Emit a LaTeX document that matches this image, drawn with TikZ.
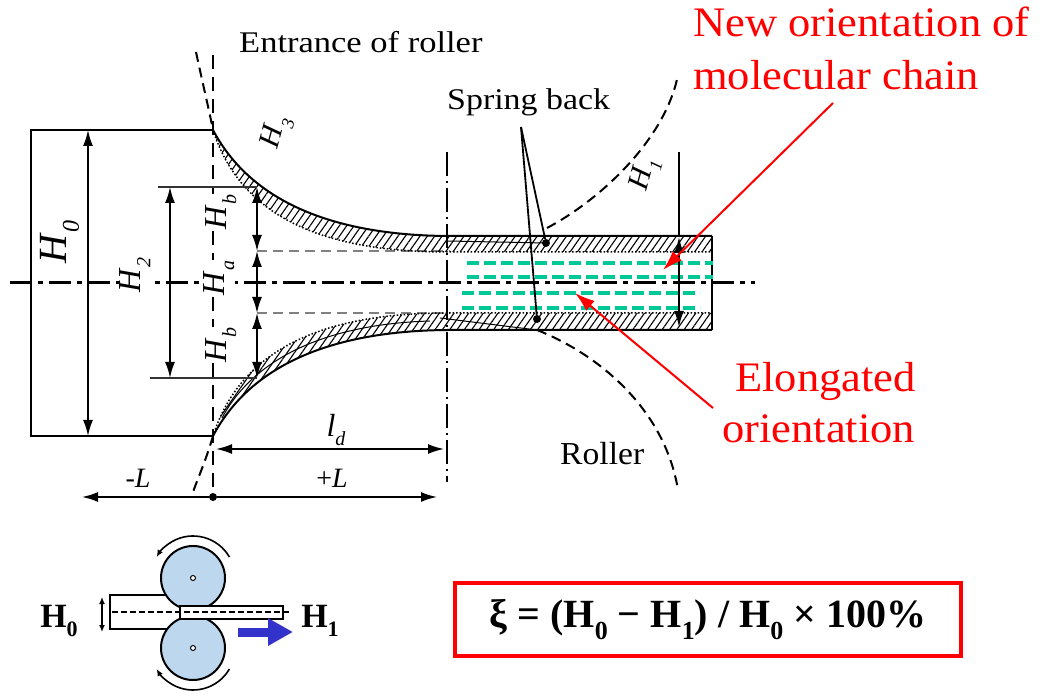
\documentclass[tikz,border=0pt]{standalone}
\usepackage{fontspec}
\usepackage{graphicx}
\setmainfont{Liberation Serif}
\usetikzlibrary{arrows.meta,patterns.meta}

\definecolor{chaincol}{RGB}{0,200,150}
\definecolor{rollcol}{RGB}{189,215,238}
\definecolor{flowcol}{RGB}{51,51,204}

% horizontally widened text
\newcommand{\wide}[2]{\scalebox{#1}[1]{#2}}
% italic symbol with lowered subscript: size, subscript size, symbol, index
\newcommand{\dimlab}[4]{{\fontsize{#1}{#1}\selectfont\textit{#3}\raisebox{-0.3em}{\fontsize{#2}{#2}\selectfont\textit{#4}}}}
% bold subscript for the formula and the small sketch
\newcommand{\bsub}[2]{\raisebox{-0.28em}{\fontsize{#1}{#1}\selectfont #2}}

\begin{document}
\begin{tikzpicture}[x=1pt,y=-1pt,
  >={Latex[length=16pt,width=10pt]},
  dimline/.style={line width=1.8pt,<->},
  extline/.style={line width=2.2pt,black!80},
  rollline/.style={line width=2pt,dash pattern=on 10pt off 6pt},
  innerline/.style={gray,line width=2pt,dash pattern=on 10pt off 6pt},
  chainline/.style={chaincol,line width=3.5pt,dash pattern=on 12pt off 5pt},
  hatch/.style={pattern={Lines[angle=55,distance=6pt,line width=1.1pt]}},
  lab/.style={fill=white,inner sep=1pt},
  dot/.style={circle,fill=black,inner sep=0pt,minimum size=8pt},
  txt/.style={anchor=base west,inner sep=0pt},
  redtxt/.style={anchor=base west,inner sep=0pt,red},
  redarrow/.style={red,line width=2pt,-{Latex[length=20pt,width=13pt]}},
  roll/.style={circle,draw,line width=2pt,fill=rollcol,minimum size=64pt,inner sep=0pt},
  hub/.style={circle,draw,line width=1pt,fill=white,minimum size=5pt,inner sep=0pt},
  rotarrow/.style={line width=1.6pt,-{Latex[length=7pt,width=6pt]}}
]
\useasboundingbox (0,0) rectangle (1042,700);

% ---------- roller outlines ----------
\draw[rollline] (196,52) .. controls (203,85) and (208,105) .. (213,130);
\draw[rollline] (213,436) .. controls (206,460) and (198,478) .. (193,492);
\draw[rollline] (547,228) .. controls (600,200) and (665,140) .. (678,75);
\draw[rollline] (537,330) .. controls (600,355) and (665,410) .. (678,490);

% ---------- reference lines ----------
\draw[line width=2pt,dash pattern=on 14pt off 8pt] (213,55) -- (213,497);
\draw[line width=2pt,dash pattern=on 24pt off 5pt on 2pt off 5pt] (447,152) -- (447,482);
\draw[line width=3pt,dash pattern=on 22pt off 6pt on 5pt off 6pt] (10,283) -- (755,283);
\draw[innerline] (257,251) -- (450,251);
\draw[innerline] (257,313) -- (450,313);

% ---------- sheet in the roll gap ----------
\fill[hatch] (213,130) .. controls (250,200) and (330,235) .. (447,236) -- (712,236)
  -- (712,252) -- (447,252) .. controls (320,252) and (240,215) .. (213,130) -- cycle;
\fill[hatch] (213,436) .. controls (250,366) and (330,331) .. (447,330) -- (712,330)
  -- (712,313) -- (447,313) .. controls (320,313) and (240,351) .. (213,436) -- cycle;
\draw[line width=2pt] (213,130) .. controls (250,200) and (330,235) .. (447,236) -- (712,236);
\draw[line width=1.5pt,dotted] (213,130) .. controls (240,215) and (320,252) .. (447,252) -- (712,252);
\draw[line width=2pt] (213,436) .. controls (250,366) and (330,331) .. (447,330) -- (712,330);
\draw[line width=1.5pt,dotted] (213,436) .. controls (240,351) and (320,313) .. (447,313) -- (712,313);
\draw[line width=1pt] (222,418) .. controls (255,356) and (330,324) .. (430,321);
\draw[line width=1pt] (447,241) -- (546,243);
\draw[line width=1pt] (440,318) -- (537,330);
\draw[line width=2.5pt] (712,236) -- (712,330);

% molecular chains
\draw[chainline] (467,263) -- (713,263);
\draw[chainline] (467,277) -- (713,277);
\draw[chainline] (462,293) -- (700,293);
\draw[chainline] (462,308) -- (700,308);

% ---------- incoming sheet ----------
\draw[line width=2pt] (213,130) -- (31,130) -- (31,436) -- (213,436);

% ---------- dimensions ----------
\draw[dimline] (88,130) -- (88,436);
\draw[extline] (158,187) -- (257,187);
\draw[extline] (150,378) -- (257,378);
\draw[dimline] (170,187) -- (170,378);
\draw[dimline] (257,187) -- (257,251);
\draw[dimline] (257,251) -- (257,313);
\draw[dimline] (257,313) -- (257,378);
\draw[line width=1.8pt] (679,152) -- (679,237);
\draw[dimline] (679,237) -- (679,327);
\draw[dimline] (216,449) -- (444,449);
\node[dot] (orig) at (213,497) {};
\draw[line width=1.8pt,->] (orig) -- (437,497);
\draw[line width=1.8pt,->] (orig) -- (82,497);

\node[lab,rotate=90] (h0) at (60,242) {\dimlab{40}{24}{H}{0}};
\node[lab,rotate=90] (h2) at (135,275) {\dimlab{32}{20}{H}{2}};
\node[lab,rotate=90] (hb1) at (221,212) {\dimlab{32}{20}{H}{b}};
\node[lab,rotate=90] (ha) at (219,278) {\dimlab{32}{20}{H}{a}};
\node[lab,rotate=90] (hb2) at (221,345) {\dimlab{32}{20}{H}{b}};
\node[rotate=75,inner sep=1pt] (h3) at (277,133) {\dimlab{30}{18}{H}{3}};
\node[rotate=75,inner sep=1pt] (h1) at (645,175) {\dimlab{30}{18}{H}{1}};
\node[inner sep=1pt] (ld) at (336,430) {\dimlab{32}{20}{l}{d}};
\node[inner sep=0pt] (lminus) at (138,478) {\fontsize{28}{28}\selectfont -\textit{L}};
\node[inner sep=0pt] (lplus) at (332,478) {\fontsize{28}{28}\selectfont +\textit{L}};

% ---------- captions ----------
\node[txt] (entr) at (239,53) {\fontsize{30}{30}\selectfont\wide{1.15}{Entrance of roller}};
\node[txt] (spring) at (447,110) {\fontsize{30}{30}\selectfont\wide{1.13}{Spring back}};
\node[txt] (roller) at (560,465) {\fontsize{32}{32}\selectfont\wide{1.05}{Roller}};
\coordinate (sbtip) at (521,127);
\node[dot] (sb1) at (546,243) {};
\node[dot] (sb2) at (537,319) {};
\draw[line width=1.8pt] (sbtip) -- (sb1);
\draw[line width=1.8pt] (sbtip) -- (sb2);

\node[redtxt] (new1) at (693,37) {\fontsize{42}{42}\selectfont\wide{1.06}{New orientation of}};
\node[redtxt] (new2) at (693,90) {\fontsize{42}{42}\selectfont\wide{1.06}{molecular chain}};
\node[redtxt] (elo1) at (735,392) {\fontsize{42}{42}\selectfont\wide{1.06}{Elongated}};
\node[redtxt] (elo2) at (722,443) {\fontsize{42}{42}\selectfont\wide{1.06}{orientation}};
\coordinate (newtail) at (833,103);
\coordinate (newtip) at (663,270);
\coordinate (elotail) at (713,408);
\coordinate (elotip) at (575,293);
\draw[redarrow] (newtail) -- (newtip);
\draw[redarrow] (elotail) -- (elotip);

% ---------- rolling sketch ----------
\draw[line width=2pt,fill=white] (193,595) -- (110,595) -- (110,629) -- (193,629);
\node[roll] (rtop) at (193,578) {};
\node[roll] (rbot) at (193,648) {};
\node[hub] at (rtop) {};
\node[hub] at (rbot) {};
\draw[line width=2.5pt,fill=white] (180,606) rectangle (283,619);
\draw[line width=1.5pt,dash pattern=on 6pt off 3pt] (112,612) -- (290,612);
\draw[line width=1.4pt,{Latex[length=7pt,width=6pt]}-{Latex[length=7pt,width=6pt]}] (102,597) -- (102,632);
\draw[rotarrow] (229.4,557) arc[start angle=330,end angle=210,radius=42];
\draw[rotarrow] (229.4,669) arc[start angle=30,end angle=150,radius=42];
\draw[flowcol,line width=9pt,-{Triangle[length=25pt,width=26pt]}] (238,632) -- (293,632);
\node[inner sep=0pt] (sh0) at (59,621) {\fontsize{34}{34}\selectfont\bfseries H\bsub{22}{0}};
\node[inner sep=0pt] (sh1) at (320,621) {\fontsize{34}{34}\selectfont\bfseries H\bsub{22}{1}};

% ---------- reduction ratio ----------
\node[draw=red,line width=4pt,minimum width=506pt,minimum height=73pt,inner sep=0pt] (formula) at (708,619.5)
  {\fontsize{40}{40}\selectfont\bfseries ξ = (H\bsub{26}{0} − H\bsub{26}{1}) / H\bsub{26}{0} × 100\%};
\end{tikzpicture}
\end{document}
